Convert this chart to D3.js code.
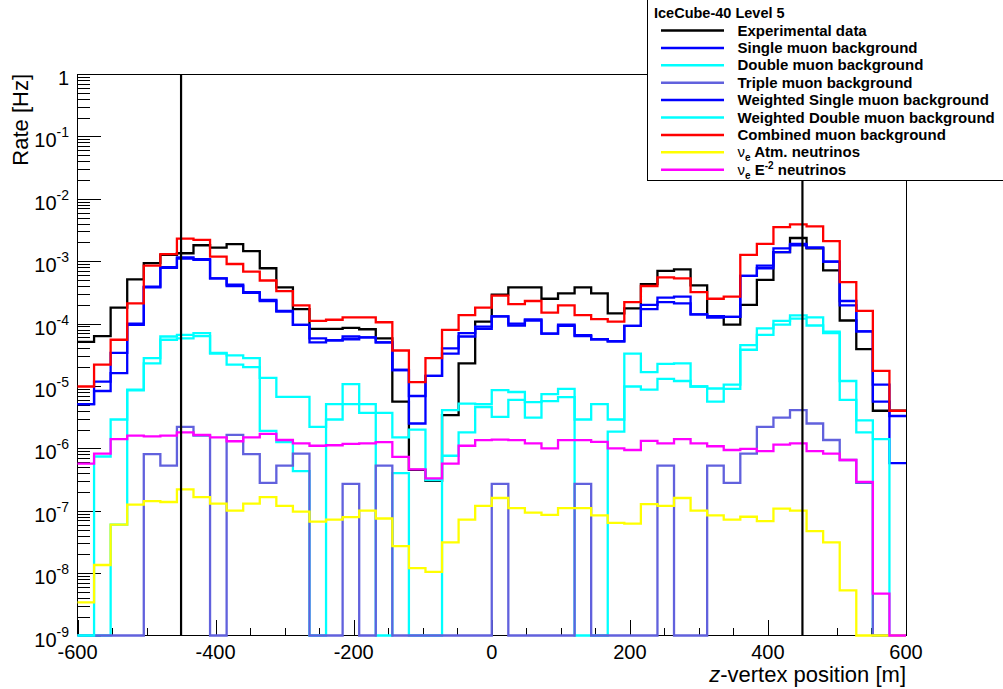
<!DOCTYPE html>
<html>
<head>
<meta charset="utf-8">
<script src="https://cdn.jsdelivr.net/npm/d3@7"></script>
<style>
  html, body { margin: 0; padding: 0; background: #fff; }
  svg { display: block; font-family: "Liberation Sans", Arial, Helvetica, sans-serif; }
</style>
</head>
<body>
<svg id="chart" width="1003" height="689"></svg>
<script>
// z-vertex histograms, 50 bins of 24 m between -600 m and 600 m (rates in Hz)
const xMin = -600, xMax = 600, binWidth = 24;
const yMin = 1e-9, yMax = 1;
const xMajorTicks = [-600, -400, -200, 0, 200, 400, 600];
const cutPositions = [-450, 450];

const experimentalData = [5.1e-5, 6.3e-5, 1.8e-4, 5.1e-4, 9.3e-4, 1.26e-3, 1.34e-3, 1.8e-3, 1.65e-3, 1.87e-3,
  1.45e-3, 7.7e-4, 3.8e-4, 1.7e-4, 8.2e-5, 8.2e-5, 8.5e-5, 8.1e-5, 5.8e-5, 5.6e-6,
  4.5e-7, 3.0e-7, 3.4e-6, 2.3e-5, 1.07e-4, 2.9e-4, 3.8e-4, 3.8e-4, 2.5e-4, 3.05e-4,
  3.8e-4, 3.05e-4, 1.46e-4, 1.75e-4, 4.3e-4, 7.0e-4, 7.4e-4, 4.1e-4, 1.32e-4, 9.6e-5,
  2.0e-4, 5.0e-4, 1.4e-3, 2.35e-3, 1.6e-3, 7.1e-4, 1.12e-4, 3.9e-5, 4.0e-6, 4.0e-6];

const singleMuon = [5.1e-6, 1.17e-5, 3.4e-5, 1.0e-4, 3.9e-4, 8.0e-4, 1.1e-3, 1.05e-3, 5.3e-4, 4.2e-4,
  3.2e-4, 2.4e-4, 1.6e-4, 9.5e-5, 5.8e-5, 5.4e-5, 6.2e-5, 6.0e-5, 5.0e-5, 1.8e-5,
  6.9e-6, 1.45e-5, 4.0e-5, 7.0e-5, 8.9e-5, 1.3e-4, 1.0e-4, 1.17e-4, 6.9e-5, 9.6e-5,
  6.5e-5, 5.6e-5, 5.2e-5, 9.2e-5, 2.0e-4, 2.6e-4, 2.7e-4, 1.4e-4, 1.32e-4, 1.28e-4,
  5.8e-4, 8.5e-4, 1.6e-3, 1.9e-3, 1.65e-3, 9.8e-4, 2.3e-4, 7.5e-5, 1.05e-5, 3.3e-6];

const doubleMuon = [0, 0, 6e-8, 8.5e-6, 2.3e-5, 5.5e-5, 5.8e-5, 6.3e-5, 3.3e-5, 2.2e-5,
  2.0e-5, 1.9e-6, 1.26e-6, 4.3e-7, 0, 2.9e-6, 5.1e-6, 3.7e-6, 0, 4.0e-7,
  0, 0, 7.6e-7, 1.8e-6, 4.6e-6, 3.2e-6, 6.0e-6, 3.1e-6, 5.7e-6, 6.6e-6,
  0, 0, 1.85e-6, 9.8e-6, 8.7e-6, 1.3e-5, 1.2e-5, 9.8e-6, 5.6e-6, 9.0e-6,
  3.8e-5, 6.6e-5, 9.6e-5, 1.2e-4, 9.3e-5, 7.0e-5, 6.0e-6, 1.8e-6, 0, 0];

const tripleMuon = [0, 0, 0, 0, 8.1e-7, 5.3e-7, 2.2e-6, 1.6e-6, 0, 1.64e-6,
  8.1e-7, 2.8e-7, 5.3e-7, 8.2e-7, 0, 0, 2.7e-7, 0, 5.3e-7, 0,
  0, 0, 0, 0, 0, 2.7e-7, 0, 0, 0, 0,
  2.7e-7, 0, 0, 0, 0, 5.3e-7, 0, 0, 5.3e-7, 2.8e-7,
  8.2e-7, 2.2e-6, 3.1e-6, 4.1e-6, 2.5e-6, 1.36e-6, 6.5e-7, 2.8e-7, 0, 0];

const weightedSingleMuon = [5.1e-6, 8.3e-6, 1.6e-5, 9.5e-5, 3.8e-4, 7.8e-4, 1.15e-3, 1.08e-3, 5.3e-4, 4.0e-4,
  3.1e-4, 2.3e-4, 1.55e-4, 9.5e-5, 5.0e-5, 5.4e-5, 5.6e-5, 6.0e-5, 5.0e-5, 1.8e-5,
  2.5e-6, 1.45e-5, 3.3e-5, 6.2e-5, 8.2e-5, 1.3e-4, 9.3e-5, 1.12e-4, 6.9e-5, 9.2e-5,
  6.3e-5, 5.6e-5, 5.2e-5, 9.2e-5, 1.7e-4, 2.2e-4, 2.1e-4, 1.4e-4, 1.25e-4, 1.28e-4,
  5.8e-4, 7.7e-4, 1.4e-3, 1.8e-3, 1.65e-3, 9.8e-4, 1.95e-4, 7.5e-5, 5.6e-6, 5.8e-7];

const weightedDoubleMuon = [0, 7.4e-7, 2.9e-6, 8.7e-6, 2.8e-5, 6.2e-5, 6.6e-5, 7.0e-5, 3.4e-5, 3.1e-5,
  2.8e-5, 1.35e-5, 6.7e-6, 6.7e-6, 2.2e-6, 5.1e-6, 1.07e-5, 5.1e-6, 3.7e-6, 1.5e-6,
  2.0e-6, 3.1e-7, 4.1e-6, 5.2e-6, 5.1e-6, 8.6e-6, 8.0e-6, 5.5e-6, 7.4e-6, 9.0e-6,
  2.9e-6, 5.1e-6, 2.9e-6, 3.3e-5, 1.67e-5, 2.25e-5, 2.3e-5, 9.8e-6, 9.1e-6, 1.05e-5,
  4.5e-5, 8.4e-5, 1.1e-4, 1.35e-4, 1.26e-4, 7.4e-5, 1.2e-5, 2.8e-6, 1.4e-6, 0];

const combinedMuon = [9.8e-6, 2.2e-5, 5.5e-5, 2.1e-4, 8.5e-4, 1.3e-3, 2.3e-3, 2.2e-3, 1.18e-3, 9.0e-4,
  6.8e-4, 4.9e-4, 3.3e-4, 1.96e-4, 1.1e-4, 1.15e-4, 1.26e-4, 1.26e-4, 1.05e-4, 3.7e-5,
  1.15e-5, 2.8e-5, 7.9e-5, 1.37e-4, 1.8e-4, 2.8e-4, 2.05e-4, 2.3e-4, 1.5e-4, 1.95e-4,
  1.37e-4, 1.18e-4, 1.07e-4, 2.2e-4, 4.0e-4, 5.5e-4, 5.3e-4, 3.2e-4, 2.5e-4, 2.7e-4,
  1.26e-3, 1.9e-3, 3.5e-3, 3.9e-3, 3.6e-3, 2.1e-3, 4.6e-4, 1.6e-4, 1.74e-5, 4.0e-6];

const nueAtmospheric = [3.4e-9, 1.35e-8, 6e-8, 1.25e-7, 1.42e-7, 1.38e-7, 2.2e-7, 1.65e-7, 1.3e-7, 1.0e-7,
  1.3e-7, 1.65e-7, 1.2e-7, 9.7e-8, 6.7e-8, 7.2e-8, 7.9e-8, 1.0e-7, 7.5e-8, 2.7e-8,
  1.2e-8, 1.05e-8, 3.1e-8, 7.2e-8, 1.2e-7, 1.6e-7, 1.1e-7, 9.3e-8, 8.6e-8, 1.1e-7,
  1.1e-7, 8.4e-8, 6.4e-8, 6.2e-8, 1.28e-7, 1.2e-7, 1.6e-7, 1.0e-7, 8.4e-8, 7.2e-8,
  8.0e-8, 6.8e-8, 1.08e-7, 1.0e-7, 4.7e-8, 3.1e-8, 5.3e-9, 0, 0, 0];

const nueE2 = [5.7e-7, 8.2e-7, 1.4e-6, 1.6e-6, 1.55e-6, 1.6e-6, 1.8e-6, 1.64e-6, 1.5e-6, 1.3e-6,
  1.5e-6, 1.7e-6, 1.36e-6, 1.2e-6, 1.1e-6, 1.12e-6, 1.18e-6, 1.2e-6, 1.26e-6, 7.3e-7,
  4.6e-7, 3.3e-7, 5.7e-7, 1.1e-6, 1.35e-6, 1.38e-6, 1.35e-6, 1.2e-6, 1.0e-6, 1.35e-6,
  1.35e-6, 1.27e-6, 1.0e-6, 9.4e-7, 1.32e-6, 1.2e-6, 1.4e-6, 1.2e-6, 1.08e-6, 9.4e-7,
  9.8e-7, 9.0e-7, 1.15e-6, 1.2e-6, 9.0e-7, 8.2e-7, 6.5e-7, 2.9e-7, 4.7e-9, 0];

// legend / drawing order
const series = [
  { name: "Experimental data", values: experimentalData, color: "#000000" },
  { name: "Single muon background", values: singleMuon, color: "#0000ff" },
  { name: "Double muon background", values: doubleMuon, color: "#00ffff" },
  { name: "Triple muon background", values: tripleMuon, color: "#6161dd" },
  { name: "Weighted Single muon background", values: weightedSingleMuon, color: "#0000ff" },
  { name: "Weighted Double muon background", values: weightedDoubleMuon, color: "#00ffff" },
  { name: "Combined muon background", values: combinedMuon, color: "#ff0000" },
  { name: "Atm. neutrinos", nu: true, values: nueAtmospheric, color: "#ffff00" },
  { name: "neutrinos", nu: true, e2: true, values: nueE2, color: "#ff00ff" }
];

const svg = d3.select("#chart");
const frame = { left: 77.5, right: 906, top: 74, bottom: 635.5 };

const x = d3.scaleLinear().domain([xMin, xMax]).range([frame.left, frame.right]);
const y = d3.scaleLog().domain([yMin, yMax]).range([frame.bottom, frame.top]).clamp(true);
const yv = v => y(Math.max(v, yMin));

// ---- frame and axes
const axes = svg.append("g").attr("shape-rendering", "crispEdges");
axes.append("rect")
  .attr("x", frame.left).attr("y", frame.top)
  .attr("width", frame.right - frame.left).attr("height", frame.bottom - frame.top)
  .attr("fill", "none").attr("stroke", "#000").attr("stroke-width", 1);

// y axis: decades with 2..9 minor ticks
const decades = d3.range(Math.log10(yMin), Math.log10(yMax) + 1);
const yMinor = [];
decades.forEach(k => { if (k < 0) for (let m = 2; m <= 9; m++) yMinor.push(m * Math.pow(10, k)); });
axes.selectAll(".ymin").data(yMinor).join("line")
  .attr("x1", frame.left).attr("x2", frame.left + 12)
  .attr("y1", d => Math.round(y(d)) + 0.5).attr("y2", d => Math.round(y(d)) + 0.5)
  .attr("stroke", "#000");
axes.selectAll(".ymaj").data(decades).join("line")
  .attr("x1", frame.left).attr("x2", frame.left + 23)
  .attr("y1", d => Math.round(y(Math.pow(10, d))) + 0.5).attr("y2", d => Math.round(y(Math.pow(10, d))) + 0.5)
  .attr("stroke", "#000");

const yLab = svg.append("g").attr("font-size", 20).attr("text-anchor", "end");
decades.forEach(k => {
  const t = yLab.append("text").attr("x", 69).attr("y", y(Math.pow(10, k)) + 11);
  if (k === 0) { t.text("1"); return; }
  t.append("tspan").text("10");
  t.append("tspan").attr("font-size", 14).attr("dy", -10).text(String(k));
});

// x axis: majors every 200 m, minors every 50 m
const xMinor = d3.range(xMin, xMax + 1, 50);
axes.selectAll(".xmin").data(xMinor).join("line")
  .attr("x1", d => Math.round(x(d)) + 0.5).attr("x2", d => Math.round(x(d)) + 0.5)
  .attr("y1", frame.bottom).attr("y2", d => frame.bottom - (xMajorTicks.includes(d) ? 16 : 8))
  .attr("stroke", "#000");

svg.append("g").attr("font-size", 20).attr("text-anchor", "middle")
  .selectAll("text").data(xMajorTicks).join("text")
  .attr("x", d => x(d)).attr("y", 659)
  .text(d => d < 0 ? "-" + Math.abs(d) : String(d));

// axis titles
const xt = svg.append("text").attr("x", frame.right).attr("y", 682)
  .attr("font-size", 22).attr("text-anchor", "end");
xt.append("tspan").attr("font-style", "italic").text("z");
xt.append("tspan").text("-vertex position [m]");

svg.append("text").attr("transform", `translate(28,${frame.top}) rotate(-90)`)
  .attr("font-size", 22).attr("text-anchor", "end").text("Rate [Hz]");

// ---- histograms
const edges = d3.range(xMin, xMax, binWidth);
const stepLine = d3.line().x(d => x(d[0])).y(d => yv(d[1])).curve(d3.curveStepAfter);

const plot = svg.append("g");
plot.append("clipPath").attr("id", "frameClip").append("rect")
  .attr("x", frame.left - 2).attr("y", frame.top).attr("width", frame.right - frame.left + 4)
  .attr("height", frame.bottom - frame.top + 2);

plot.append("g").attr("clip-path", "url(#frameClip)")
  .selectAll("path").data(series).join("path")
  .attr("d", s => stepLine(edges.map((e, i) => [e, s.values[i]]).concat([[xMax, s.values[s.values.length - 1]]])))
  .attr("fill", "none").attr("stroke", s => s.color).attr("stroke-width", 2.3)
  .attr("stroke-linejoin", "miter");

// containment cut lines
svg.append("g").selectAll("line").data(cutPositions).join("line")
  .attr("x1", d => x(d)).attr("x2", d => x(d))
  .attr("y1", frame.bottom).attr("y2", frame.top)
  .attr("stroke", "#000").attr("stroke-width", 2.2);

// ---- legend
const lg = svg.append("g");
lg.append("rect").attr("x", 647.5).attr("y", -1).attr("width", 400).attr("height", 181.5)
  .attr("fill", "#fff").attr("stroke", "#000").attr("stroke-width", 1).attr("shape-rendering", "crispEdges");
lg.append("text").attr("x", 654).attr("y", 18).attr("font-size", 14.5).attr("font-weight", "bold")
  .text("IceCube-40 Level 5");

series.forEach((s, i) => {
  const cy = 30.5 + 17.4 * i;
  lg.append("line").attr("x1", 661).attr("x2", 724).attr("y1", cy).attr("y2", cy)
    .attr("stroke", s.color).attr("stroke-width", 2.5);
  const t = lg.append("text").attr("x", 737.5).attr("y", cy + 5)
    .attr("font-size", 15).attr("font-weight", "bold");
  if (s.nu) {
    t.append("tspan").attr("font-weight", "normal").text("\u03bd");
    t.append("tspan").attr("font-size", 10).attr("dy", 4).text("e");
    if (s.e2) {
      t.append("tspan").attr("dy", -4).text(" E");
      t.append("tspan").attr("font-size", 10).attr("dy", -6).text("-2");
      t.append("tspan").attr("dy", 6).text(" " + s.name);
    } else {
      t.append("tspan").attr("dy", -4).text(" " + s.name);
    }
  } else {
    t.text(s.name);
  }
});
</script>
</body>
</html>
